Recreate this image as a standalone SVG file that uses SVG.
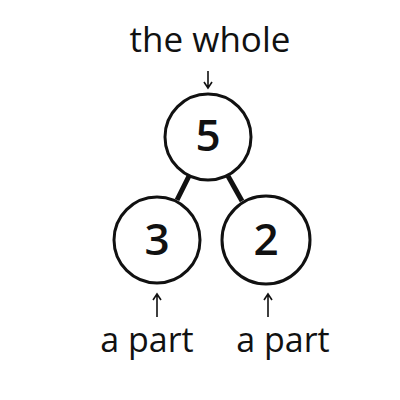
<svg xmlns="http://www.w3.org/2000/svg" width="400" height="400" viewBox="0 0 400 400">
<style>
.node circle{fill:#fff;stroke:#111;stroke-width:3}
.num{font-family:"Open Sans",sans-serif;font-size:44px;font-weight:600;fill:#111;text-anchor:middle}
.lbl{font-family:"Open Sans",sans-serif;font-size:34px;fill:#111;text-anchor:middle}
.arr{stroke:#111;stroke-width:1.6;fill:none}
.conn line{stroke:#111;stroke-width:5;stroke-linecap:butt}
</style>
<rect width="400" height="400" fill="#fff"/>
<g class="conn" id="connectors">
<line x1="189" y1="176" x2="177" y2="200"/>
<line x1="228" y1="176" x2="242" y2="201"/>
</g>
<g class="node" id="node-5">
<circle cx="208" cy="137" r="43"/>
<text class="num" x="208" y="151">5</text>
</g>
<g class="node" id="node-3">
<circle cx="157" cy="240" r="43"/>
<text class="num" x="157" y="255">3</text>
</g>
<g class="node" id="node-2">
<circle cx="266" cy="240" r="44"/>
<text class="num" x="266" y="255">2</text>
</g>
<g id="label-whole">
<text class="lbl" x="210" y="52" style="font-size:35px">the whole</text>
<path class="arr" d="M208 71V88M204 82L208 88L212 82"/>
</g>
<g id="label-part-left">
<path class="arr" d="M157 317V294M153 300L157 294L161 300"/>
<text class="lbl" x="147" y="352">a part</text>
</g>
<g id="label-part-right">
<path class="arr" d="M268 317V294M264 300L268 294L272 300"/>
<text class="lbl" x="283" y="352">a part</text>
</g>
</svg>
